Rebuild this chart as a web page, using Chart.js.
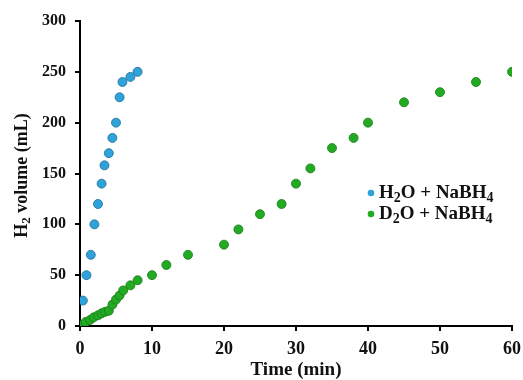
<!DOCTYPE html>
<html>
<head>
<meta charset="utf-8">
<script src="https://cdn.jsdelivr.net/npm/chart.js@4"></script>
<style>
  html, body { margin: 0; padding: 0; background: #fff; }
  #wrap { width: 523px; height: 380px; position: relative; }
</style>
</head>
<body>
<div id="wrap"><canvas id="chart"></canvas></div>
<script>
// tempos (min) e volumes (mL)
const h2oTime = [0.4, 0.9, 1.5, 2, 2.5, 3, 3.4, 4, 4.5, 5, 5.5, 5.9, 7, 8];
const h2oVolume = [25, 50, 70, 100, 120, 140, 158, 170, 185, 200, 225, 240, 245, 250];

const d2oTime = [0, 0.25, 0.8, 1.4, 1.9, 2.5, 3, 3.5, 4, 4.5, 5, 5.5, 6, 7, 8, 10, 12, 15, 20, 22, 25, 28, 30, 32, 35, 38, 40, 45, 50, 55, 60];
const d2oVolume = [0, 1, 4, 6, 8.5, 10.5, 12.5, 14, 15, 21, 26, 30, 35, 40, 45, 50, 60, 70, 80, 95, 110, 120, 140, 155, 175, 185, 200, 220, 230, 240, 250];

const seriesLabels = ['H₂O + NaBH₄', 'D₂O + NaBH₄'];
const xTicks = [0, 10, 20, 30, 40, 50, 60];
const yTicks = [0, 50, 100, 150, 200, 250, 300];

const FONT = '"Liberation Serif", "Times New Roman", serif';
const SUBS = { '₀': '0', '₁': '1', '₂': '2', '₃': '3', '₄': '4', '₅': '5', '₆': '6', '₇': '7', '₈': '8', '₉': '9' };

// escreve texto com subscritos (caracteres ₂, ₄...) menores e rebaixados
function drawRich(ctx, text, x, y, size, measureOnly) {
  let cx = x;
  for (const ch of text) {
    const sub = SUBS[ch];
    const s = sub ? sub : ch;
    ctx.font = 'bold ' + (sub ? Math.round(size * 0.72) : size) + 'px ' + FONT;
    if (!measureOnly) ctx.fillText(s, cx, sub ? y + size * 0.28 : y);
    cx += ctx.measureText(s).width;
  }
  return cx - x;
}

// legenda dentro da área do gráfico
const innerLegend = {
  id: 'innerLegend',
  afterDraw(chart) {
    const ctx = chart.ctx;
    const area = chart.chartArea;
    const x0 = area.right - 141;
    const y0 = area.top + 172;
    ctx.save();
    ctx.textBaseline = 'middle';
    chart.data.datasets.forEach((ds, i) => {
      const y = y0 + i * 21;
      ctx.beginPath();
      ctx.arc(x0, y, 3.3, 0, Math.PI * 2);
      ctx.fillStyle = ds.backgroundColor;
      ctx.fill();
      ctx.fillStyle = '#111';
      drawRich(ctx, ds.label, x0 + 8, y, 19);
    });
    ctx.restore();
  }
};

// título do eixo y com subscrito
const yTitle = {
  id: 'yTitle',
  afterDraw(chart) {
    const ctx = chart.ctx;
    const area = chart.chartArea;
    const text = 'H₂ volume (mL)';
    ctx.save();
    ctx.fillStyle = '#111';
    ctx.textBaseline = 'middle';
    const w = drawRich(ctx, text, 0, 0, 18, true);
    ctx.translate(22, (area.top + area.bottom) / 2 + 2);
    ctx.rotate(-Math.PI / 2);
    drawRich(ctx, text, -w / 2, 0, 18);
    ctx.restore();
  }
};

new Chart(document.getElementById('chart'), {
  type: 'scatter',
  data: {
    datasets: [
      {
        label: seriesLabels[0],
        data: h2oTime.map((t, i) => ({ x: t, y: h2oVolume[i] })),
        backgroundColor: '#2ea2d9',
        borderColor: '#1d6f98',
        borderWidth: 0.8,
        pointRadius: 4.5
      },
      {
        label: seriesLabels[1],
        data: d2oTime.map((t, i) => ({ x: t, y: d2oVolume[i] })),
        backgroundColor: '#22aa22',
        borderColor: '#177a17',
        borderWidth: 0.8,
        pointRadius: 4.5
      }
    ]
  },
  options: {
    responsive: true,
    maintainAspectRatio: false,
    animation: false,
    layout: { padding: { left: 0, right: 11, top: 21, bottom: 0 } },
    plugins: {
      legend: { display: false },
      tooltip: { enabled: false }
    },
    scales: {
      x: {
        type: 'linear',
        min: 0,
        max: 60,
        afterFit: (scale) => {
          scale.height = 54;
          scale.paddingLeft = 0;
          scale.paddingRight = 0;
        },
        afterBuildTicks: (scale) => { scale.ticks = xTicks.map(v => ({ value: v })); },
        grid: { drawOnChartArea: false, drawTicks: true, tickLength: 5, color: '#000', lineWidth: 2 },
        border: { color: '#000', width: 2 },
        ticks: { color: '#111', padding: 8, font: { family: FONT, size: 18, weight: 'bold' } },
        title: {
          display: true,
          text: 'Time (min)',
          color: '#111',
          padding: { top: 0, bottom: 0 },
          font: { family: FONT, size: 19, weight: 'bold', lineHeight: 1.0 }
        }
      },
      y: {
        type: 'linear',
        min: 0,
        max: 300,
        afterFit: (scale) => {
          scale.width = 80;
          scale.paddingTop = 0;
          scale.paddingBottom = 0;
        },
        afterBuildTicks: (scale) => { scale.ticks = yTicks.map(v => ({ value: v })); },
        grid: { drawOnChartArea: false, drawTicks: true, tickLength: 5, color: '#000', lineWidth: 2 },
        border: { color: '#000', width: 2 },
        ticks: { color: '#111', padding: 9, font: { family: FONT, size: 16, weight: 'bold' } }
      }
    }
  },
  plugins: [innerLegend, yTitle]
});
</script>
</body>
</html>
